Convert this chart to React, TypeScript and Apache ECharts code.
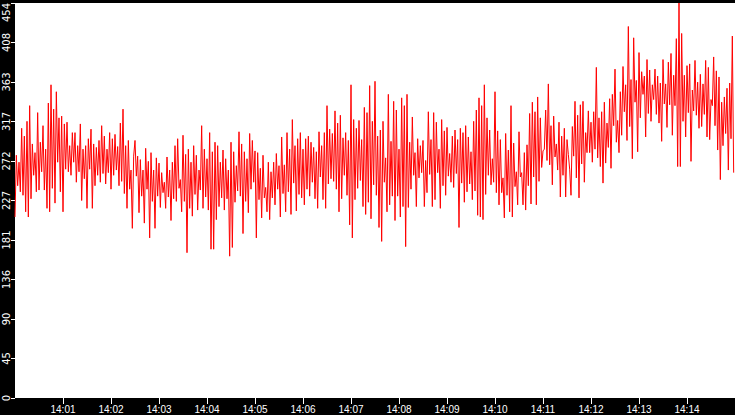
import React, { useEffect, useRef } from 'react'
import * as echarts from 'echarts'

// seconds since 14:00:00 covered by the chart
const spanSeconds = 900
const stepSeconds = spanSeconds / 540

const xTickLabels = ['14:01', '14:02', '14:03', '14:04', '14:05', '14:06', '14:07',
  '14:08', '14:09', '14:10', '14:11', '14:12', '14:13', '14:14']
const yTickLabels = ['0', '45', '90', '136', '181', '227', '272', '317', '363', '408', '454']

// readings, one every ~1.7 s (zig-zag high / low)
const readings = [
  208, 279, 244, 271, 237, 310, 233, 301, 214, 318,
  208, 336, 229, 292, 256, 282, 237, 328, 239, 294,
  260, 313, 239, 286, 218, 339, 214, 360, 241, 332,
  224, 352, 271, 322, 237, 324, 214, 315, 263, 317,
  260, 290, 256, 305, 271, 305, 248, 290, 260, 315,
  227, 286, 252, 290, 218, 298, 263, 309, 218, 292,
  244, 288, 256, 296, 248, 313, 258, 301, 246, 286,
  259, 305, 240, 298, 256, 303, 262, 289, 244, 316,
  249, 332, 235, 290, 218, 296, 240, 262, 195, 278,
  296, 255, 278, 213, 274, 232, 262, 201, 287, 240,
  272, 184, 282, 226, 262, 195, 276, 232, 270, 219,
  259, 236, 248, 218, 277, 231, 262, 204, 271, 229,
  290, 226, 298, 241, 251, 214, 302, 226, 280, 167,
  286, 218, 271, 209, 290, 234, 279, 216, 262, 239,
  313, 218, 286, 231, 275, 216, 305, 171, 283, 171,
  294, 205, 290, 220, 271, 230, 285, 216, 275, 229,
  262, 163, 294, 173, 283, 225, 267, 238, 306, 232,
  292, 189, 283, 226, 275, 213, 304, 240, 296, 248,
  284, 184, 282, 228, 264, 207, 279, 230, 242, 214,
  271, 205, 260, 230, 271, 222, 281, 240, 267, 208,
  300, 235, 268, 214, 305, 237, 286, 211, 320, 247,
  290, 215, 298, 234, 305, 230, 286, 222, 298, 240,
  301, 232, 294, 248, 288, 229, 283, 218, 306, 254,
  290, 228, 305, 218, 336, 246, 309, 252, 304, 249,
  330, 240, 316, 214, 325, 229, 299, 256, 305, 233,
  296, 199, 360, 184, 320, 228, 310, 241, 319, 250,
  297, 220, 334, 211, 328, 225, 359, 206, 318, 245,
  364, 233, 301, 196, 308, 180, 318, 248, 276, 214,
  349, 222, 295, 232, 341, 204, 331, 232, 286, 208,
  345, 220, 336, 174, 349, 219, 294, 240, 323, 256,
  282, 220, 298, 253, 290, 259, 296, 220, 273, 236,
  329, 257, 297, 220, 328, 228, 317, 259, 286, 218,
  320, 244, 307, 233, 311, 255, 281, 248, 301, 242,
  308, 258, 297, 196, 310, 247, 305, 225, 313, 237,
  300, 246, 283, 228, 318, 238, 331, 210, 345, 208,
  336, 205, 360, 234, 322, 256, 308, 245, 275, 248,
  352, 236, 307, 222, 297, 236, 253, 207, 304, 233,
  285, 214, 336, 208, 293, 243, 260, 222, 306, 254,
  259, 222, 282, 216, 291, 244, 327, 223, 340, 254,
  329, 222, 346, 249, 322, 265, 284, 286, 331, 273,
  361, 268, 313, 245, 324, 277, 292, 262, 317, 231,
  301, 256, 310, 231, 297, 280, 263, 233, 312, 278,
  341, 253, 325, 230, 337, 269, 341, 248, 305, 282,
  330, 282, 317, 271, 329, 286, 380, 276, 322, 266,
  329, 247, 340, 270, 316, 288, 344, 264, 349, 313,
  378, 294, 319, 282, 352, 302, 381, 329, 360, 296,
  427, 312, 366, 275, 414, 340, 365, 283, 397, 322,
  375, 349, 370, 300, 389, 327, 377, 318, 360, 343,
  378, 326, 370, 316, 362, 295, 389, 338, 361, 311,
  386, 337, 396, 302, 371, 336, 413, 266, 454, 266,
  419, 318, 371, 300, 382, 328, 384, 272, 354, 330,
  388, 325, 363, 310, 372, 312, 361, 326, 388, 300,
  380, 297, 343, 336, 392, 313, 376, 285, 369, 251,
  340, 290, 346, 304, 356, 262, 362, 298, 416, 259
]

const App: React.FC = () => {
  const chartRef = useRef<HTMLDivElement>(null)

  useEffect(() => {
    if (!chartRef.current) return
    document.body.style.margin = '0'

    const chart = echarts.init(chartRef.current, undefined, { renderer: 'svg' })

    const points = readings.map((v, i) => [i * stepSeconds, v])

    const option = {
      animation: false,
      backgroundColor: '#000',
      grid: {
        show: true,
        left: 15,
        right: 0,
        top: 0,
        bottom: 17,
        backgroundColor: '#fff',
        borderWidth: 0
      },
      xAxis: {
        type: 'value',
        min: 0,
        max: spanSeconds,
        interval: 60,
        axisLine: { show: false },
        axisTick: { show: true, length: 6, lineStyle: { color: '#fff', width: 1 } },
        splitLine: { show: false },
        axisLabel: {
          color: '#fff',
          fontSize: 10,
          fontFamily: 'Liberation Sans',
          margin: 6,
          showMinLabel: false,
          showMaxLabel: false,
          formatter: (v: number) => xTickLabels[Math.round(v / 60) - 1] || ''
        }
      },
      yAxis: {
        type: 'value',
        min: 0,
        max: 454,
        interval: 45.4,
        axisLine: { show: false },
        axisTick: { show: true, length: 4, lineStyle: { color: '#fff', width: 1 } },
        splitLine: { show: false },
        axisLabel: {
          color: '#fff',
          fontSize: 10,
          fontFamily: 'DejaVu Sans',
          rotate: 90,
          margin: 4,
          alignMaxLabel: 'right',
          formatter: (v: number) => yTickLabels[Math.round(v / 45.4)] || ''
        }
      },
      series: [
        {
          type: 'line',
          data: points,
          showSymbol: false,
          symbol: 'none',
          lineStyle: { color: '#ff0000', width: 1 },
          silent: true
        }
      ]
    }

    chart.setOption(option)

    return () => {
      chart.dispose()
    }
  }, [])

  return <div ref={chartRef} style={{ width: 735, height: 415 }} />
}

export default App
